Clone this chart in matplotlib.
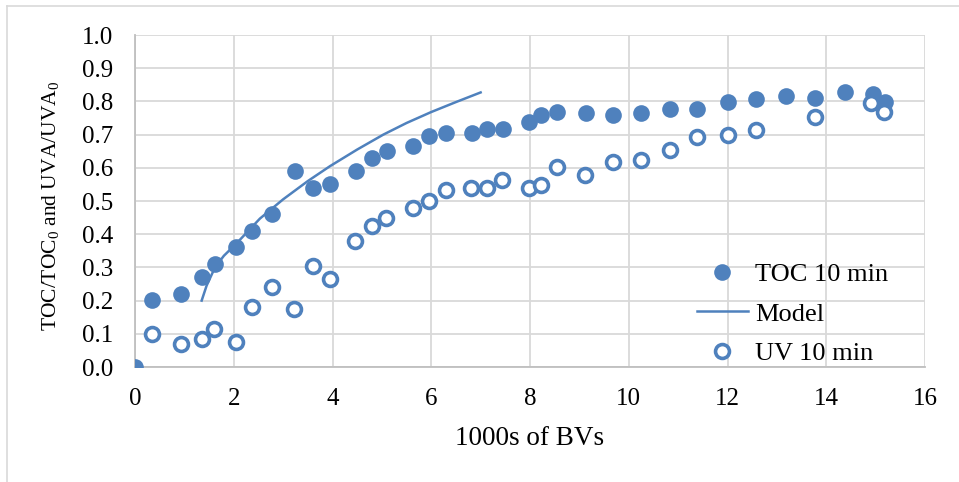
import matplotlib
matplotlib.use("Agg")
import matplotlib.pyplot as plt
from matplotlib.lines import Line2D

plt.rcParams['font.family'] = ['Liberation Serif', 'DejaVu Serif']
plt.rcParams['mathtext.fontset'] = 'custom'
plt.rcParams['mathtext.rm'] = 'Liberation Serif'
plt.rcParams['mathtext.it'] = 'Liberation Serif:italic'

# datos (miles de BV, fraccion)
bv_toc = [0.0, 0.34, 0.93, 1.36, 1.62, 2.04, 2.37, 2.77, 3.24, 3.60, 3.95,
          4.47, 4.80, 5.10, 5.63, 5.95, 6.30, 6.82, 7.13, 7.45, 7.98, 8.22,
          8.54, 9.13, 9.68, 10.24, 10.83, 11.38, 12.00, 12.57, 13.18, 13.77,
          14.37, 14.94, 15.18]
toc = [0.0, 0.202, 0.22, 0.27, 0.31, 0.36, 0.41, 0.46, 0.59, 0.54, 0.55,
       0.59, 0.63, 0.65, 0.665, 0.695, 0.705, 0.705, 0.717, 0.717, 0.738, 0.76,
       0.768, 0.765, 0.76, 0.765, 0.777, 0.777, 0.798, 0.807, 0.816, 0.81,
       0.828, 0.822, 0.798]

bv_uv = [0.35, 0.93, 1.35, 1.61, 2.04, 2.36, 2.77, 3.23, 3.60, 3.94, 4.46,
         4.80, 5.09, 5.63, 5.95, 6.30, 6.81, 7.13, 7.44, 7.98, 8.23, 8.55,
         9.12, 9.68, 10.24, 10.83, 11.38, 12.01, 12.57, 13.77, 14.91, 15.17]
uv = [0.10, 0.068, 0.083, 0.114, 0.074, 0.182, 0.242, 0.175, 0.304, 0.265, 0.38,
      0.426, 0.449, 0.479, 0.501, 0.532, 0.54, 0.538, 0.563, 0.538, 0.547, 0.601,
      0.577, 0.617, 0.623, 0.654, 0.692, 0.699, 0.714, 0.754, 0.794, 0.769]

bv_model = [1.35, 1.45, 1.62, 1.80, 2.06, 2.53, 3.00, 3.50, 3.95, 4.50, 5.03,
            5.50, 6.00, 6.50, 7.00]
model = [0.20, 0.245, 0.30, 0.335, 0.373, 0.447, 0.505, 0.56, 0.605, 0.655, 0.70,
         0.735, 0.768, 0.798, 0.827]

azul = '#4F81BD'

fig = plt.figure(figsize=(9.59, 4.82), dpi=100)
ax = fig.add_axes([135/959, 1 - 367/482, 790/959, 332/482])

ax.plot(bv_toc, toc, 'o', color=azul, markersize=12, markeredgewidth=0,
        label='TOC 10 min', zorder=3)
ax.plot(bv_model, model, '-', color=azul, linewidth=1.8, label='Model', zorder=3)
ax.plot(bv_uv, uv, 'o', color=azul, markerfacecolor='white', markersize=10,
        markeredgewidth=2.6, label='UV 10 min', zorder=4)

ax.set_xlim(0, 16)
ax.set_ylim(0, 1.0)
ax.set_xticks(range(0, 17, 2))
ax.set_yticks([i / 10 for i in range(11)])
ax.set_yticklabels([f'{i / 10:.1f}' for i in range(11)])
ax.tick_params(axis='both', length=0, labelsize=18)
ax.tick_params(axis='y', pad=16)
ax.tick_params(axis='x', pad=15)

ax.grid(True, color='#d9d9d9', linewidth=1.3)
ax.set_axisbelow(True)
for s in ['top', 'right']:
    ax.spines[s].set_visible(False)
for s in ['left', 'bottom']:
    ax.spines[s].set_color('#bfbfbf')
    ax.spines[s].set_linewidth(1.3)

ax.set_xlabel('1000s of BVs', fontsize=19.5)
ax.xaxis.set_label_coords(0.5, -0.178)
ax.set_ylabel('TOC/TOC$_0$ and UVA/UVA$_0$', fontsize=15.5)
ax.yaxis.set_label_coords(-0.094, 0.485)

ax.legend(loc='center left', bbox_to_anchor=(0.711, 0.16), frameon=False,
          fontsize=19, borderpad=0, borderaxespad=0, handlelength=1.93,
          handletextpad=0.27, labelspacing=0.6)

# borde del area del grafico
borde = dict(color='#d9d9d9', linewidth=1.2)
fig.add_artist(Line2D([7/959, 7/959], [0, 1 - 6/482], **borde))
fig.add_artist(Line2D([7/959, 1], [1 - 6/482, 1 - 6/482], **borde))

fig.savefig('out.png', dpi=100)
